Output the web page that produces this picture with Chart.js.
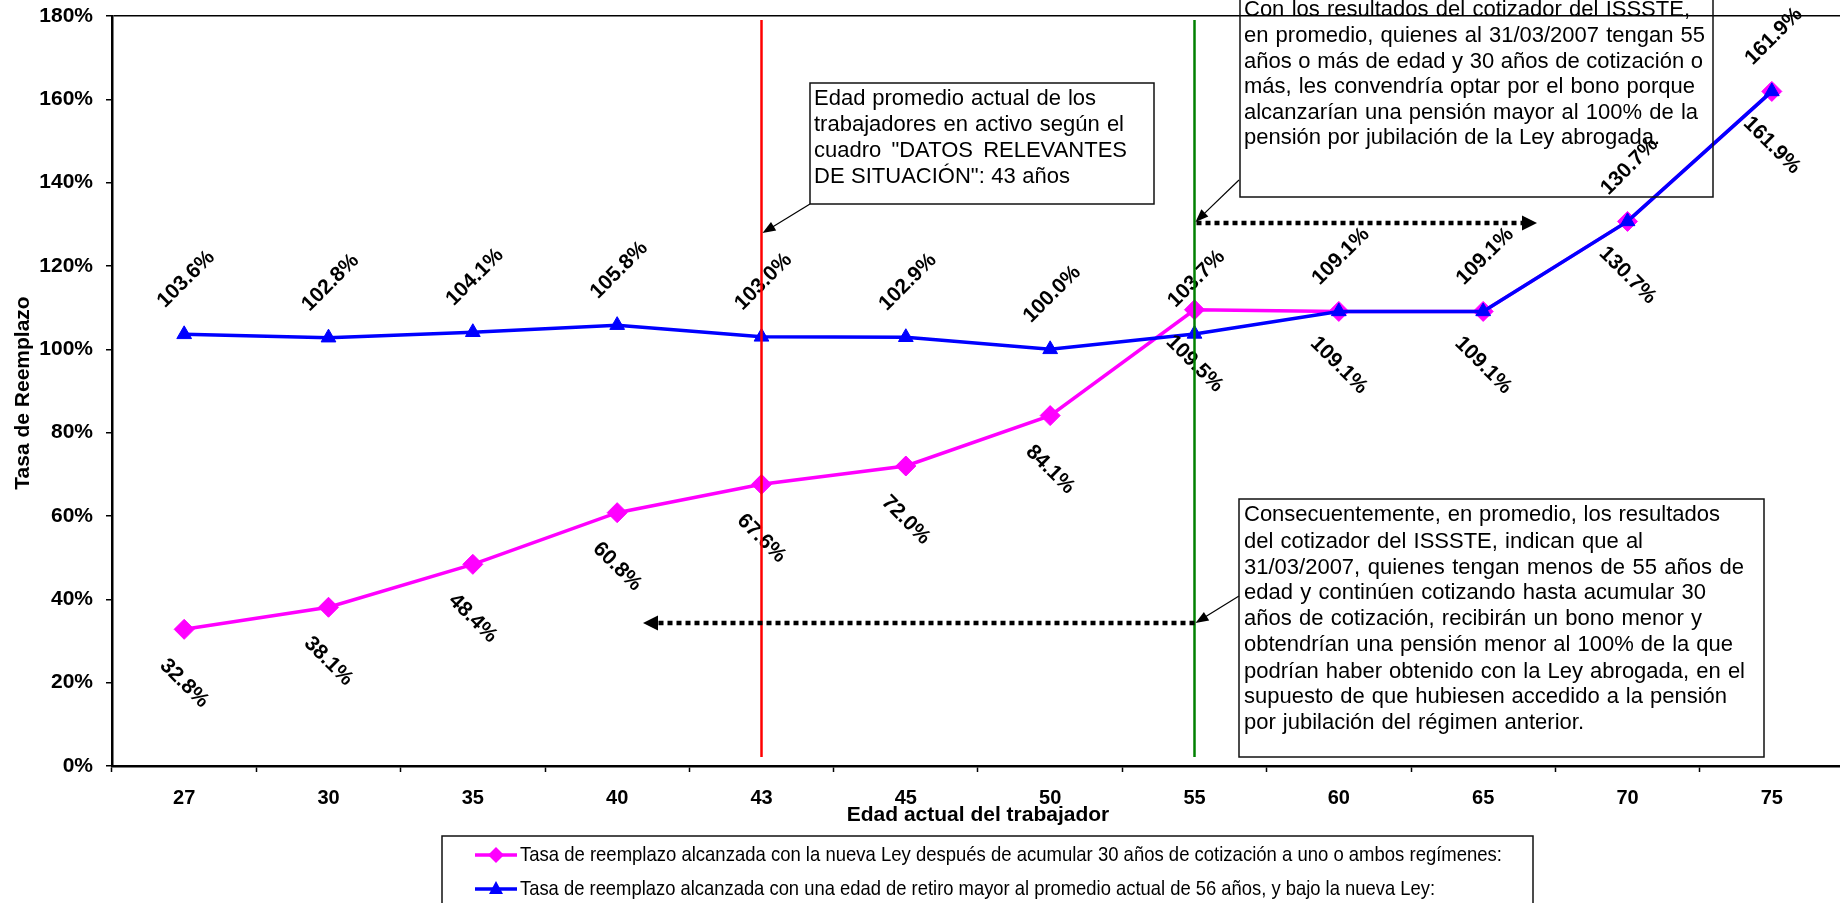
<!DOCTYPE html>
<html>
<head>
<meta charset="UTF-8">
<title>Tasa de Reemplazo</title>
<script src="https://cdn.jsdelivr.net/npm/chart.js@4.4.1/dist/chart.umd.min.js"></script>
<style>
  html, body { margin: 0; padding: 0; background: #fff; overflow: hidden; }
  canvas { display: block; }
</style>
</head>
<body>
<!-- a little wider than the window: the plot area runs past the right edge like in the original -->
<canvas id="tasaChart" width="1855" height="903"></canvas>
<script>
// --- data ---
const edades = ['27', '30', '35', '40', '43', '45', '50', '55', '60', '65', '70', '75'];
const tasaNuevaLey = [32.8, 38.1, 48.4, 60.8, 67.6, 72.0, 84.1, 109.5, 109.1, 109.1, 130.7, 161.9];
const tasaRetiroMayor = [103.6, 102.8, 104.1, 105.8, 103.0, 102.9, 100.0, 103.7, 109.1, 109.1, 130.7, 161.9];
const nombresSeries = [
    'Tasa de reemplazo alcanzada con la nueva Ley después de acumular 30 años de cotización a uno o ambos regímenes:',
    'Tasa de reemplazo alcanzada con una edad de retiro mayor al promedio actual de 56 años, y bajo la nueva Ley:'
];
const edadPromedio = '43';
const edadCorte = '55';
const nota1 = ['Edad promedio actual de los', 'trabajadores en activo según el', 'cuadro "DATOS RELEVANTES', 'DE SITUACIÓN": 43 años'];
const nota2 = ['Con los resultados del cotizador del ISSSTE,', 'en promedio, quienes al 31/03/2007 tengan 55', 'años o más de edad y 30 años de cotización o',
    'más, les convendría optar por el bono porque', 'alcanzarían una pensión mayor al 100% de la', 'pensión por jubilación de la Ley abrogada.'];
const nota3 = ['Consecuentemente, en promedio, los resultados', 'del cotizador del ISSSTE, indican que al', '31/03/2007, quienes tengan menos de 55 años de',
    'edad y continúen cotizando hasta acumular 30', 'años de cotización, recibirán un bono menor y', 'obtendrían una pensión menor al 100% de la que',
    'podrían haber obtenido con la Ley abrogada, en el', 'supuesto de que hubiesen accedido a la pensión', 'por jubilación del régimen anterior.'];

const FONT = '"Liberation Sans", Arial, sans-serif';
const ROSA = '#FF00FF';
const AZUL = '#0000FF';

// draws a line of text stretched/squeezed so it ends at endX
function fitLine(ctx, text, x, y, endX) {
    const natural = ctx.measureText(text).width;
    const target = endX - x;
    const words = text.split(' ');
    if (target <= natural || words.length < 2) {
        ctx.save();
        ctx.translate(x, y);
        ctx.scale(Math.min(1, target / natural), 1);
        ctx.fillText(text, 0, 0);
        ctx.restore();
        return;
    }
    const ws = words.map(w => ctx.measureText(w).width);
    const gap = (target - ws.reduce((a, b) => a + b, 0)) / (words.length - 1);
    let cx = x;
    words.forEach((w, i) => { ctx.fillText(w, cx, y); cx += ws[i] + gap; });
}

function arrow(ctx, x1, y1, x2, y2, width, dash, headLen, headW) {
    const a = Math.atan2(y2 - y1, x2 - x1);
    ctx.save();
    ctx.strokeStyle = '#000';
    ctx.fillStyle = '#000';
    ctx.lineWidth = width;
    ctx.setLineDash(dash);
    ctx.beginPath();
    ctx.moveTo(x1, y1);
    ctx.lineTo(x2 - Math.cos(a) * headLen * 0.9, y2 - Math.sin(a) * headLen * 0.9);
    ctx.stroke();
    ctx.setLineDash([]);
    ctx.translate(x2, y2);
    ctx.rotate(a);
    ctx.beginPath();
    ctx.moveTo(0, 0);
    ctx.lineTo(-headLen, -headW / 2);
    ctx.lineTo(-headLen, headW / 2);
    ctx.closePath();
    ctx.fill();
    ctx.restore();
}

function box(ctx, l, t, r, b) {
    ctx.save();
    ctx.strokeStyle = '#111';
    ctx.lineWidth = 1.5;
    ctx.strokeRect(l, t, r - l, b - t);
    ctx.restore();
}

function noteText(ctx, lines, x, ys, ends) {
    ctx.save();
    ctx.fillStyle = '#000';
    ctx.font = '22px ' + FONT;
    ctx.textBaseline = 'middle';
    ctx.textAlign = 'left';
    lines.forEach((s, i) => fitLine(ctx, s, x, ys[i], ends[i]));
    ctx.restore();
}

const anotaciones = {
    id: 'anotaciones',
    afterDatasetsDraw(chart) {
        const ctx = chart.ctx;
        const xs = chart.scales.x;

        // rotated value labels
        ctx.save();
        ctx.font = 'bold 21px ' + FONT;
        ctx.fillStyle = '#000';
        ctx.textAlign = 'center';
        ctx.textBaseline = 'middle';
        chart.getDatasetMeta(0).data.forEach((p, i) => {
            ctx.save();
            ctx.translate(p.x, p.y + 54);
            ctx.rotate(Math.PI / 4);
            ctx.fillText(tasaNuevaLey[i].toFixed(1) + '%', 0, 0);
            ctx.restore();
        });
        chart.getDatasetMeta(1).data.forEach((p, i) => {
            ctx.save();
            ctx.translate(p.x + 2, p.y - 55);
            ctx.rotate(-Math.PI / 4);
            ctx.fillText(tasaRetiroMayor[i].toFixed(1) + '%', 0, 0);
            ctx.restore();
        });
        ctx.restore();

        // vertical reference lines
        const xr = xs.getPixelForValue(edades.indexOf(edadPromedio));
        const xg = xs.getPixelForValue(edades.indexOf(edadCorte));
        ctx.save();
        ctx.lineWidth = 2.5;
        ctx.strokeStyle = '#FF0000';
        ctx.beginPath(); ctx.moveTo(xr, 20); ctx.lineTo(xr, 757); ctx.stroke();
        ctx.strokeStyle = '#008000';
        ctx.beginPath(); ctx.moveTo(xg, 20); ctx.lineTo(xg, 757); ctx.stroke();
        ctx.restore();

        // arrows
        arrow(ctx, 810, 204, xr + 1, 233, 1.2, [], 13, 10);
        arrow(ctx, 1239, 180, xg + 1, 222, 1.2, [], 13, 10);
        arrow(ctx, 1239, 596, xg + 1, 623, 1.2, [], 13, 10);
        arrow(ctx, xg + 2, 223, 1537, 223, 4.5, [5, 4], 15, 15);
        arrow(ctx, xg, 623, 643, 623, 4.5, [5, 4], 15, 15);

        // note boxes
        box(ctx, 810, 83, 1154, 204);
        noteText(ctx, nota1, 814, [99, 125, 151, 177], [1096, 1124, 1127, 1070]);
        box(ctx, 1240, -10, 1713, 197);
        noteText(ctx, nota2, 1244, [10, 36, 62, 87, 113, 138], [1690, 1705, 1703, 1695, 1698, 1660]);
        box(ctx, 1239, 499, 1764, 757);
        noteText(ctx, nota3, 1244, [515, 542, 568, 593, 619, 645, 672, 697, 723],
            [1720, 1643, 1744, 1706, 1702, 1733, 1745, 1727, 1584]);
    },
    afterDraw(chart) {
        const ctx = chart.ctx;
        ctx.save();
        ctx.fillStyle = '#000';
        ctx.font = 'bold 21px ' + FONT;
        ctx.textAlign = 'center';
        ctx.textBaseline = 'middle';
        ctx.fillText('Edad actual del trabajador', 978, 815);
        ctx.translate(23, 393);
        ctx.rotate(-Math.PI / 2);
        ctx.fillText('Tasa de Reemplazo', 0, 0);
        ctx.restore();

        // legend
        box(ctx, 442, 836, 1533, 920);
        const rows = [
            { y: 855, color: ROSA, shape: 'diamond', end: 1502 },
            { y: 889, color: AZUL, shape: 'triangle', end: 1435 }
        ];
        rows.forEach((r, i) => {
            ctx.save();
            ctx.strokeStyle = r.color;
            ctx.fillStyle = r.color;
            ctx.lineWidth = 3.5;
            ctx.beginPath(); ctx.moveTo(475, r.y); ctx.lineTo(517, r.y); ctx.stroke();
            ctx.beginPath();
            if (r.shape === 'diamond') {
                ctx.moveTo(496, r.y - 8); ctx.lineTo(504, r.y); ctx.lineTo(496, r.y + 8); ctx.lineTo(488, r.y);
            } else {
                ctx.moveTo(496, r.y - 8); ctx.lineTo(503, r.y + 5); ctx.lineTo(489, r.y + 5);
            }
            ctx.closePath();
            ctx.fill();
            ctx.fillStyle = '#000';
            ctx.font = '21px ' + FONT;
            ctx.textBaseline = 'middle';
            fitLine(ctx, nombresSeries[i], 520, r.y, r.end);
            ctx.restore();
        });
    }
};

const fondo = {
    id: 'fondo',
    beforeDraw(chart) {
        const ctx = chart.ctx;
        ctx.save();
        ctx.fillStyle = '#fff';
        ctx.fillRect(0, 0, chart.width, chart.height);
        ctx.restore();
    }
};

new Chart(document.getElementById('tasaChart').getContext('2d'), {
    type: 'line',
    data: {
        labels: edades,
        datasets: [
            {
                label: nombresSeries[0],
                data: tasaNuevaLey,
                borderColor: ROSA,
                backgroundColor: ROSA,
                borderWidth: 3.5,
                pointStyle: 'rectRot',
                pointRadius: 10,
                pointBorderWidth: 1,
                tension: 0,
                order: 2
            },
            {
                label: nombresSeries[1],
                data: tasaRetiroMayor,
                borderColor: AZUL,
                backgroundColor: AZUL,
                borderWidth: 3.5,
                pointStyle: 'triangle',
                pointRadius: 8.5,
                pointBorderWidth: 1,
                tension: 0,
                order: 1
            }
        ]
    },
    options: {
        responsive: false,
        animation: false,
        devicePixelRatio: 1,
        layout: { padding: { top: 16, right: 0, bottom: 0, left: 0 } },
        plugins: {
            legend: { display: false },
            tooltip: { enabled: false }
        },
        scales: {
            x: {
                offset: true,
                grid: { offset: true, drawOnChartArea: false, drawTicks: true, tickLength: 6, tickColor: '#000', tickWidth: 1.5 },
                border: { color: '#000', width: 2.5 },
                ticks: { color: '#000', font: { family: FONT, size: 20, weight: 'bold' }, padding: 14, maxRotation: 0, autoSkip: false },
                afterFit(s) { s.height = 137; s.paddingLeft = 0; s.paddingRight = 0; }
            },
            y: {
                min: 0,
                max: 180,
                ticks: {
                    stepSize: 20,
                    callback: v => v + '%',
                    color: '#000',
                    font: { family: FONT, size: 21, weight: 'bold' },
                    padding: 13
                },
                grid: {
                    color: c => (c.tick && c.tick.value === 180) ? '#000' : 'rgba(0,0,0,0)',
                    lineWidth: 1.5,
                    tickColor: '#000',
                    tickLength: 6,
                    tickWidth: 1.5
                },
                border: { color: '#000', width: 2.5 },
                afterFit(s) { s.width = 112; s.paddingTop = 0; s.paddingBottom = 0; }
            }
        }
    },
    plugins: [fondo, anotaciones]
});
</script>
</body>
</html>
